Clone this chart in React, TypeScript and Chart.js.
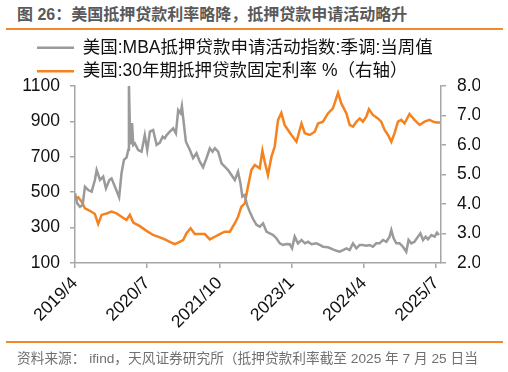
import React, { useEffect, useRef } from "react";
import { Chart, registerables } from "chart.js";

Chart.register(...registerables);

// ---- data ----
const seriesNames = [
  "美国:MBA抵押贷款申请活动指数:季调:当周值",
  "美国:30年期抵押贷款固定利率 %（右轴）",
];

const mbaDates = [
  "2019-04-01","2019-04-15","2019-05-02","2019-05-19","2019-06-03","2019-06-24","2019-07-15","2019-08-05",
  "2019-08-16","2019-09-07","2019-09-27","2019-10-14","2019-11-05","2019-11-19","2019-12-10","2020-01-06",
  "2020-01-21","2020-02-06","2020-02-23","2020-03-03","2020-03-07","2020-03-13","2020-03-20","2020-03-27",
  "2020-04-04","2020-04-14","2020-05-05","2020-05-26","2020-06-16","2020-07-01","2020-07-18","2020-08-08",
  "2020-08-30","2020-09-20","2020-10-07","2020-10-21","2020-11-02","2020-11-22","2020-12-13","2020-12-30",
  "2021-01-14","2021-01-29","2021-02-07","2021-02-19","2021-03-02","2021-03-27","2021-04-17","2021-05-08",
  "2021-05-29","2021-06-19","2021-07-10","2021-08-01","2021-08-18","2021-09-02","2021-09-23","2021-10-14",
  "2021-11-04","2021-11-25","2021-12-16","2022-01-07","2022-01-27","2022-02-12","2022-02-24","2022-03-09",
  "2022-03-23","2022-04-10","2022-04-30","2022-05-22","2022-06-12","2022-07-03","2022-07-24","2022-08-14",
  "2022-09-05","2022-09-26","2022-10-17","2022-11-07","2022-11-28","2022-12-19","2023-01-03","2023-01-20",
  "2023-02-10","2023-03-02","2023-03-23","2023-04-13","2023-05-04","2023-06-05","2023-06-26","2023-07-16",
  "2023-08-17","2023-09-18","2023-10-10","2023-10-30","2023-11-21","2023-12-12","2024-01-02","2024-01-23",
  "2024-02-14","2024-03-05","2024-03-25","2024-04-16","2024-05-07","2024-05-27","2024-06-18","2024-07-09",
  "2024-07-30","2024-08-21","2024-09-11","2024-09-22","2024-10-06","2024-10-23","2024-11-13","2024-12-04",
  "2024-12-25","2025-01-09","2025-01-26","2025-02-16","2025-03-08","2025-03-23","2025-04-09","2025-04-26",
  "2025-05-10","2025-06-01","2025-06-22","2025-07-06","2025-07-19",
];
const mbaValues = [
  494, 437, 418, 428, 531, 512, 503, 569,
  625, 569, 588, 522, 569, 578, 531, 471,
  607, 682, 697, 740, 1110, 870, 770, 890,
  767, 776, 738, 729, 823, 738, 842, 851,
  767, 780, 814, 805, 823, 842, 861, 833,
  964, 946, 987, 889, 785, 738, 692, 720,
  672, 641, 692, 748, 729, 748, 729, 663,
  644, 625, 597, 569, 616, 550, 475, 484,
  428, 390, 350, 315, 305, 324, 277, 268,
  258, 240, 211, 202, 207, 206, 183, 249,
  211, 230, 211, 220, 206, 211, 202, 192,
  189, 177, 169, 164, 173, 183, 173, 211,
  183, 202, 202, 198, 202, 192, 211, 211,
  230, 220, 249, 286, 240, 211, 211, 192,
  164, 230, 211, 220, 249, 268, 230, 249,
  234, 258, 249, 271, 258,
];

const rateDates = [
  "2019-04-01","2019-04-21","2019-05-13","2019-06-03","2019-07-04","2019-08-05","2019-08-26","2019-09-17",
  "2019-10-18","2019-11-19","2019-12-20","2020-01-21","2020-02-22","2020-03-13","2020-04-04","2020-05-15",
  "2020-06-27","2020-08-08","2020-09-20","2020-10-21","2020-11-22","2020-12-23","2021-01-14","2021-02-15",
  "2021-03-06","2021-04-01","2021-04-28","2021-05-29","2021-06-30","2021-08-01","2021-09-02","2021-10-03",
  "2021-11-04","2021-12-06","2022-01-07","2022-01-27","2022-02-18","2022-03-09","2022-03-29","2022-04-20",
  "2022-05-11","2022-06-12","2022-06-29","2022-07-13","2022-08-03","2022-08-25","2022-09-15","2022-10-06",
  "2022-10-27","2022-11-17","2022-12-08","2022-12-30","2023-01-31","2023-03-02","2023-03-23","2023-04-24",
  "2023-05-25","2023-06-15","2023-07-16","2023-08-17","2023-09-18","2023-10-20","2023-11-10","2023-12-12",
  "2024-01-02","2024-01-23","2024-02-14","2024-03-05","2024-03-25","2024-04-16","2024-05-02","2024-05-27",
  "2024-06-28","2024-07-19","2024-08-10","2024-09-01","2024-09-22","2024-10-12","2024-11-03","2024-11-24",
  "2024-12-14","2025-01-15","2025-02-16","2025-03-18","2025-04-19","2025-05-20","2025-06-11","2025-07-02",
  "2025-07-25",
];
const rateValues = [
  4.14, 4.23, 4.08, 3.85, 3.77, 3.66, 3.32, 3.63,
  3.68, 3.74, 3.68, 3.57, 3.46, 3.63, 3.37, 3.25,
  3.09, 2.95, 2.87, 2.80, 2.72, 2.64, 2.69, 2.78,
  3.01, 3.18, 2.98, 2.98, 2.98, 2.80, 2.89, 2.98,
  3.06, 3.06, 3.35, 3.57, 3.91, 4.02, 4.59, 5.15,
  5.32, 5.21, 5.81, 5.43, 4.98, 5.60, 5.94, 6.85,
  7.09, 6.68, 6.51, 6.34, 6.11, 6.73, 6.40, 6.34,
  6.45, 6.73, 6.79, 7.07, 7.24, 7.77, 7.41, 7.07,
  6.68, 6.62, 6.79, 6.90, 6.79, 6.96, 7.21, 7.02,
  6.90, 6.79, 6.51, 6.34, 6.11, 6.40, 6.79, 6.85,
  6.73, 7.05, 6.85, 6.68, 6.79, 6.85, 6.79, 6.76,
  6.76,
];

const xTickLabels = ["2019/4", "2020/7", "2021/10", "2023/1", "2024/4", "2025/7"];
const xAxisStart = "2019/4";
const xAxisEnd = "2025/8";
const leftMin = 100, leftMax = 1100, leftStep = 200;
const rightMin = 2, rightMax = 8, rightStep = 1;

const titleText = "图 26：美国抵押贷款利率略降，抵押贷款申请活动略升";
const sourceText = "资料来源： ifind，天风证券研究所（抵押贷款利率截至 2025 年 7 月 25 日当";

// ---- helpers ----
const baseY = 2019, baseM = 4;
function monthOfLabel(s: string): number {
  const [y, m] = s.split("/").map(Number);
  return (y - baseY) * 12 + (m - baseM);
}
function monthOfDate(s: string): number {
  const [y, m, d] = s.split("-").map(Number);
  return (y - baseY) * 12 + (m - baseM) + (d - 1) / 30.5;
}

const FONT = "'Liberation Sans', 'Noto Sans CJK SC', sans-serif";
const GRAY = "#9a9a9a";
const ORANGE = "#F5821F";
const AXIS = "#a6a6a6";

// trims the legend box height and nudges it right to match the reference layout
const legendTweak = {
  id: "legendTweak",
  afterInit(chart: any) {
    const lg = chart.legend;
    if (!lg) return;
    const fit = lg.fit.bind(lg);
    lg.fit = () => {
      fit();
      lg.height = Math.max(0, lg.height - 4);
    };
  },
  afterLayout(chart: any) {
    const lg = chart.legend;
    if (!lg) return;
    lg.left += 11;
    lg.right += 11;
  },
};

export default function App() {
  const ref = useRef<HTMLCanvasElement | null>(null);

  useEffect(() => {
    if (!ref.current) return;
    const tickVals = xTickLabels.map(monthOfLabel);
    const chart = new Chart(ref.current, {
      type: "line",
      data: {
        datasets: [
          {
            label: seriesNames[0],
            data: mbaDates.map((d, i) => ({ x: monthOfDate(d), y: mbaValues[i] })),
            borderColor: GRAY,
            backgroundColor: GRAY,
            borderWidth: 2.5,
            pointRadius: 0,
            tension: 0,
            yAxisID: "y",
          },
          {
            label: seriesNames[1],
            data: rateDates.map((d, i) => ({ x: monthOfDate(d), y: rateValues[i] })),
            borderColor: ORANGE,
            backgroundColor: ORANGE,
            borderWidth: 2.5,
            pointRadius: 0,
            tension: 0,
            yAxisID: "y2",
          },
        ],
      },
      options: {
        animation: false,
        responsive: false,
        devicePixelRatio: 1,
        events: [],
        layout: { padding: { left: 20, right: 28, top: 33, bottom: 37 } },
        plugins: {
          tooltip: { enabled: false },
          legend: {
            position: "top",
            align: "start",
            labels: {
              font: { family: FONT, size: 17.5 },
              color: "#111",
              padding: 6,
              usePointStyle: true,
              pointStyle: "line",
              pointStyleWidth: 37,
            },
          },
        },
        scales: {
          x: {
            type: "linear",
            min: monthOfLabel(xAxisStart),
            max: monthOfLabel(xAxisEnd),
            afterBuildTicks: (s: any) => {
              s.ticks = tickVals.map((v) => ({ value: v }));
            },
            afterFit: (s: any) => {
              s.height = 72;
            },
            ticks: {
              autoSkip: false,
              minRotation: 45,
              maxRotation: 45,
              padding: 5,
              color: "#111",
              font: { family: FONT, size: 17.5 },
              callback: (v: any) => {
                const i = tickVals.indexOf(Number(v));
                return i >= 0 ? xTickLabels[i] : "";
              },
            },
            grid: { display: true, drawOnChartArea: false, drawTicks: true, tickLength: 5, color: AXIS, lineWidth: 1.5 },
            border: { display: true, color: AXIS, width: 1.5 },
          },
          y: {
            position: "left",
            min: leftMin,
            max: leftMax,
            ticks: {
              stepSize: leftStep,
              padding: 10,
              color: "#111",
              font: { family: FONT, size: 17.5 },
              callback: (v: any) => String(Math.round(Number(v))),
            },
            afterFit: (s: any) => {
              s.width = 55;
            },
            grid: { display: true, drawOnChartArea: false, drawTicks: true, tickLength: 5, color: AXIS, lineWidth: 1.5 },
            border: { display: true, color: AXIS, width: 1.5 },
          },
          y2: {
            position: "right",
            min: rightMin,
            max: rightMax,
            ticks: {
              stepSize: rightStep,
              padding: 11,
              color: "#111",
              font: { family: FONT, size: 17.5 },
              callback: (v: any) => Number(v).toFixed(1),
            },
            afterFit: (s: any) => {
              s.width = 39;
            },
            grid: { display: true, drawOnChartArea: false, drawTicks: true, tickLength: 5, color: AXIS, lineWidth: 1.5 },
            border: { display: true, color: AXIS, width: 1.5 },
          },
        },
      },
      plugins: [legendTweak],
    } as any);
    return () => chart.destroy();
  }, []);

  return (
    <div style={{ position: "absolute", left: 0, top: 0, width: 508, height: 372, background: "#fff", overflow: "hidden" }}>
      <div
        style={{
          position: "absolute", left: 17, top: 5, whiteSpace: "pre",
          fontFamily: FONT, fontSize: 16, fontWeight: "bold", lineHeight: "20px", color: "#595959",
        }}
      >
        {titleText}
      </div>
      <div style={{ position: "absolute", left: 6, top: 28, width: 497, height: 2, background: "#F0892C" }} />
      <canvas ref={ref} width={508} height={372} style={{ position: "absolute", left: 0, top: 0, width: 508, height: 372 }} />
      <div style={{ position: "absolute", left: 6, top: 341, width: 497, height: 2, background: "#F0892C" }} />
      <div
        style={{
          position: "absolute", left: 17, top: 350, whiteSpace: "pre",
          fontFamily: FONT, fontSize: 13.7, lineHeight: "18px", color: "#707070",
        }}
      >
        {sourceText}
      </div>
    </div>
  );
}
